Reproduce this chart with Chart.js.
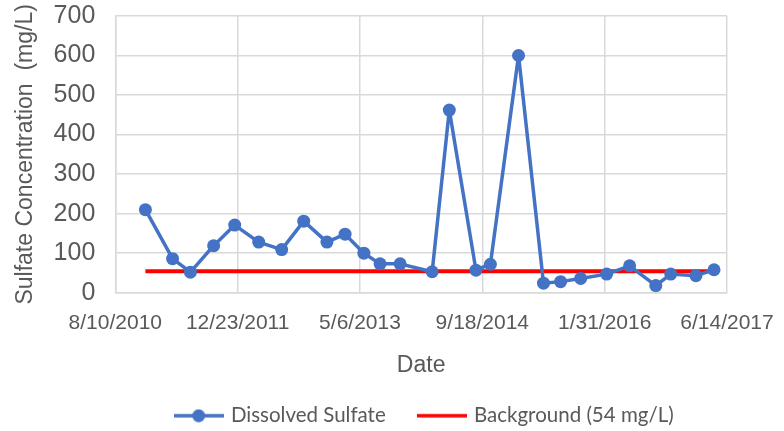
<!DOCTYPE html>
<html>
<head>
<meta charset="utf-8">
<script src="https://cdn.jsdelivr.net/npm/chart.js@4/dist/chart.umd.min.js"></script>
<style>
  html, body { margin: 0; padding: 0; background: #fff; }
  #wrap { width: 784px; height: 431px; }
</style>
</head>
<body>
<div id="wrap"><canvas id="myChart" width="784" height="431"></canvas></div>
<script>
// sample dates and dissolved sulfate (mg/L)
const sampleDates = ['2010-12-11', '2011-04-01', '2011-06-13', '2011-09-16', '2011-12-11',
  '2012-03-18', '2012-06-20', '2012-09-18', '2012-12-22', '2013-03-06', '2013-05-22',
  '2013-07-27', '2013-10-17', '2014-02-25', '2014-05-06', '2014-08-23', '2014-10-21',
  '2015-02-13', '2015-05-26', '2015-08-04', '2015-10-25', '2016-02-08', '2016-05-12',
  '2016-08-27', '2016-10-27', '2017-02-07', '2017-04-22'];
const sulfate = [210, 86, 52, 119, 171, 128, 109, 181, 128, 148, 100,
  73, 73, 53, 462, 57, 72, 600, 24, 28, 36, 47, 68, 18, 47, 43, 58];
const backgroundLevel = 54;
const backgroundDates = ['2010-12-11', '2017-04-22'];
const axisMin = '2010-08-10';
const axisMax = '2017-06-14';
const dayStep = 500;

const BLUE = '#4472C4';
const RED = '#FF0000';
const GREY = '#595959';
const AXISFONT = '"Liberation Sans", Arial, sans-serif';

// excel style day numbers
function toSerial(s) {
  const p = s.split('-').map(Number);
  return Math.round((Date.UTC(p[0], p[1] - 1, p[2]) - Date.UTC(1899, 11, 30)) / 86400000);
}
function serialLabel(n) {
  const d = new Date(Date.UTC(1899, 11, 30) + n * 86400000);
  return (d.getUTCMonth() + 1) + '/' + d.getUTCDate() + '/' + d.getUTCFullYear();
}

function legendIcon(color, marker) {
  const c = document.createElement('canvas');
  c.width = 50; c.height = 14;
  const g = c.getContext('2d');
  g.strokeStyle = color;
  g.lineWidth = 3.5;
  g.beginPath(); g.moveTo(0, 7); g.lineTo(50, 7); g.stroke();
  if (marker) {
    g.fillStyle = color;
    g.beginPath(); g.arc(25, 7, 6.5, 0, Math.PI * 2); g.fill();
  }
  return c;
}

const sulfatePts = sampleDates.map((d, i) => ({ x: toSerial(d), y: sulfate[i] }));
const bgPts = backgroundDates.map(d => ({ x: toSerial(d), y: backgroundLevel }));
const icons = [legendIcon(BLUE, true), legendIcon(RED, false)];

// excel centres the legend under the plot area, not the whole canvas
const legendShift = {
  id: 'legendShift',
  afterLayout(chart) {
    const a = chart.chartArea;
    const dx = (a.left + a.right) / 2 - (chart.legend.left + chart.legend.right) / 2 + 4;
    chart.legend.left += dx;
    chart.legend.right += dx;
  }
};

let ctx = document.querySelector('#myChart').getContext('2d');
let myChart = new Chart(ctx, {
  type: 'line',
  data: {
    datasets: [{
      label: 'Dissolved Sulfate',
      data: sulfatePts,
      borderColor: BLUE,
      backgroundColor: BLUE,
      borderWidth: 3.5,
      borderJoinStyle: 'round',
      pointRadius: 6.5,
      pointHoverRadius: 6.5,
      pointBorderWidth: 0,
      tension: 0,
    }, {
      label: 'Background (54 mg/L)',
      data: bgPts,
      borderColor: RED,
      backgroundColor: RED,
      borderWidth: 4,
      pointRadius: 0,
      pointHoverRadius: 0,
    }]
  },
  plugins: [legendShift],
  options: {
    responsive: false,
    animation: false,
    layout: { padding: { left: 12, right: 0, top: 0, bottom: -5 } },
    plugins: {
      tooltip: { enabled: false },
      legend: {
        position: 'bottom',
        labels: {
          usePointStyle: true,
          pointStyleWidth: 44,
          padding: 34,
          color: GREY,
          font: { family: 'Lato, "Open Sans", sans-serif', size: 20.5 },
          generateLabels: (chart) => chart.data.datasets.map((ds, i) => ({
            text: ds.label,
            fillStyle: ds.borderColor,
            strokeStyle: ds.borderColor,
            lineWidth: 0,
            pointStyle: icons[i],
            fontColor: GREY,
            datasetIndex: i,
          })),
        },
      },
    },
    scales: {
      x: {
        type: 'linear',
        min: toSerial(axisMin),
        max: toSerial(axisMax),
        afterFit: (s) => { s.paddingRight = 57; },
        grid: { color: '#d9d9d9', lineWidth: 1.5, drawTicks: false },
        border: { color: '#d9d9d9', width: 1.5 },
        ticks: {
          stepSize: dayStep,
          padding: 18,
          color: GREY,
          maxRotation: 0,
          font: { family: AXISFONT, size: 21 },
          callback: (v) => serialLabel(v),
        },
        title: {
          display: true,
          text: 'Date',
          color: GREY,
          padding: { top: -2, bottom: -8 },
          font: { family: AXISFONT, size: 23 },
        },
      },
      y: {
        min: 0,
        max: 700,
        afterFit: (s) => { s.paddingTop = 16; },
        grid: { color: '#d9d9d9', lineWidth: 1.5, drawTicks: false },
        border: { color: '#d9d9d9', width: 1.5 },
        ticks: {
          stepSize: 100,
          padding: 20,
          color: GREY,
          font: { family: AXISFONT, size: 25 },
        },
        title: {
          display: true,
          text: 'Sulfate Concentration  (mg/L)',
          color: GREY,
          padding: { top: 0, bottom: -6 },
          font: { family: AXISFONT, size: 23 },
        },
      },
    },
  },
});
</script>
</body>
</html>
